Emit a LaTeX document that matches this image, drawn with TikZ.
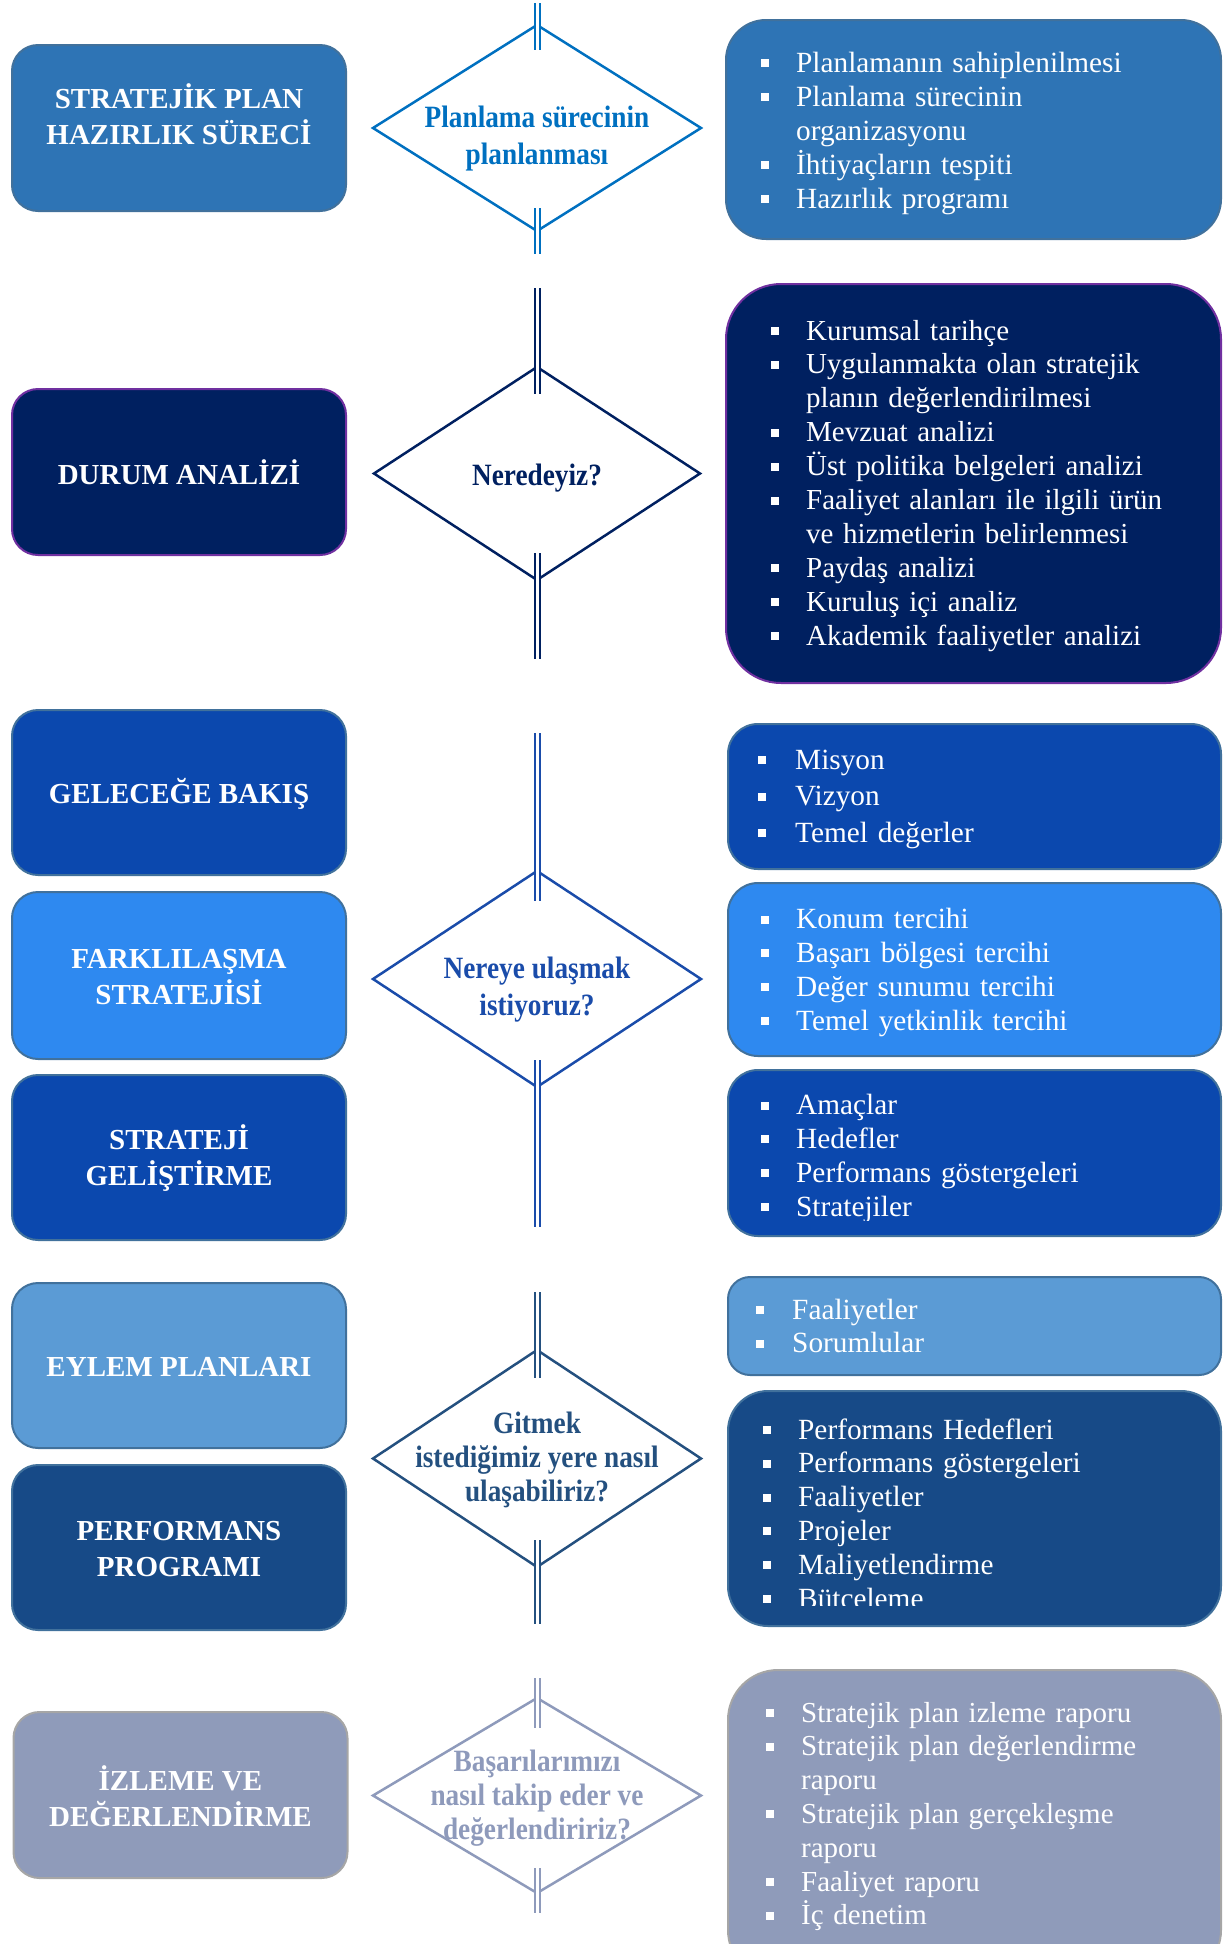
\documentclass[tikz,border=0pt]{standalone}
\usepackage{fontspec}
\setmainfont{Liberation Serif}
\newfontfamily\dfont[FakeStretch=0.88]{Liberation Serif}
\usetikzlibrary{shapes.geometric,calc}
\definecolor{cA}{HTML}{2E74B5}
\definecolor{cAb}{HTML}{41719C}
\definecolor{cB}{HTML}{002060}
\definecolor{cBb}{HTML}{7030A0}
\definecolor{cC}{HTML}{0B48AE}
\definecolor{cD}{HTML}{2E89F0}
\definecolor{cE}{HTML}{5B9BD5}
\definecolor{cF}{HTML}{174A87}
\definecolor{cG}{HTML}{8F9BBA}
\definecolor{cGb}{HTML}{A6A6A6}
\definecolor{dA}{HTML}{0070C0}
\definecolor{dB}{HTML}{002060}
\definecolor{dC}{HTML}{1A4CAA}
\definecolor{dD}{HTML}{24507F}
\definecolor{dE}{HTML}{8E9ABB}
\newlength\bw
\newcommand\bi{\makebox[\bw][l]{\rule[5pt]{8pt}{8pt}}}
\newcommand\ci{\hspace*{\bw}}
\tikzset{
  lbox/.style={fill=#1, draw=cAb, line width=2pt, rounded corners=26pt,
    minimum width=334pt, minimum height=166pt, inner sep=0pt},
  ltext/.style={text=white, align=center, inner sep=0pt,
    font=\fontsize{29}{36}\selectfont\bfseries},
  rbox/.style={fill=#1, draw=cAb, line width=2pt, minimum width=495pt, inner sep=0pt},
  rtext/.style={anchor=base west, text=white, text width=455pt, inner sep=0pt,
    align=left, execute at begin node={\setlength{\bw}{#1}}},
  dia/.style={shape=diamond, draw=#1, line width=2.5pt, inner sep=0pt, outer sep=0pt,
    aspect=1},
  dtext/.style={text=#1, align=center, inner sep=0pt},
  dl/.style={draw=#1, line width=2pt, double=white, double distance=3pt}
}
\begin{document}
\begin{tikzpicture}[x=1pt,y=-1pt]
\path[use as bounding box] (0,0) rectangle (1226,1944);
\clip (0,0) rectangle (1226,1944);

% ---------- left boxes ----------
\node[lbox=cA] (b1) at (179,128) {};
\node[ltext] (l1) at (179,114.5) {STRATEJİK PLAN\\HAZIRLIK SÜRECİ};
\node[lbox=cB, draw=cBb] (b2) at (179,472) {};
\node[ltext] (l2) at (b2) {DURUM ANALİZİ};
\node[lbox=cC, minimum height=165pt] (b3) at (179,792.5) {};
\node[ltext] (l3) at (179,794) {GELECEĞE BAKIŞ};
\node[lbox=cD, minimum height=167pt] (b4) at (179,975.5) {};
\node[ltext] (l4) at (179,977) {FARKLILAŞMA\\STRATEJİSİ};
\node[lbox=cC, minimum height=165pt] (b5) at (179,1157.5) {};
\node[ltext] (l5) at (179,1158.5) {STRATEJİ\\GELİŞTİRME};
\node[lbox=cE, minimum height=165pt] (b6) at (179,1365.5) {};
\node[ltext] (l6) at (179,1367) {EYLEM PLANLARI};
\node[lbox=cF, minimum height=165pt] (b7) at (179,1547.5) {};
\node[ltext] (l7) at (179,1549) {PERFORMANS\\PROGRAMI};
\node[lbox=cG, draw=cGb] (b8) at (180.5,1795) {};
\node[ltext] (l8) at (180.5,1796) {İZLEME VE\\DEĞERLENDİRME};

% ---------- diamonds ----------
\node[dia=dA, minimum width=328pt, minimum height=206pt] (d1) at (537,128) {};
\node[dtext=dA, font=\fontsize{31}{37}\dfont\bfseries] (t1) at (537,139) {Planlama sürecinin\\planlanması};
\draw[dl=dA] ($(d1.north)+(0,-22)$) -- ($(d1.north)+(0,25)$);
\draw[dl=dA] ($(d1.south)+(0,-23)$) -- ($(d1.south)+(0,23)$);

\node[dia=dB, minimum width=326pt, minimum height=213pt] (d2) at (537,473.5) {};
\node[dtext=dB, font=\fontsize{31}{37}\dfont\bfseries] (t2) at (537,478) {Neredeyiz?};
\draw[dl=dB] ($(d2.north)+(0,-79)$) -- ($(d2.north)+(0,27)$);
\draw[dl=dB] ($(d2.south)+(0,-27)$) -- ($(d2.south)+(0,79)$);

\node[dia=dC, minimum width=328pt, minimum height=216pt] (d3) at (537,979) {};
\node[dtext=dC, font=\fontsize{31}{37}\dfont\bfseries] (t3) at (537,990) {Nereye ulaşmak\\istiyoruz?};
\draw[dl=dC] ($(d3.north)+(0,-138)$) -- ($(d3.north)+(0,30)$);
\draw[dl=dC] ($(d3.south)+(0,-27)$) -- ($(d3.south)+(0,140)$);

\node[dia=dD, minimum width=328pt, minimum height=217pt] (d4) at (537,1458.5) {};
\node[dtext=dD, font=\fontsize{31}{34}\dfont\bfseries] (t4) at (537,1460) {Gitmek\\istediğimiz yere nasıl\\ulaşabiliriz?};
\draw[dl=dD] ($(d4.north)+(0,-58)$) -- ($(d4.north)+(0,28)$);
\draw[dl=dD] ($(d4.south)+(0,-27)$) -- ($(d4.south)+(0,57)$);

\node[dia=dE, minimum width=328pt, minimum height=195pt] (d5) at (537,1795.5) {};
\node[dtext=dE, font=\fontsize{31}{34}\dfont\bfseries] (t5) at (537,1798) {Başarılarımızı\\nasıl takip eder ve\\değerlendiririz?};
\draw[dl=dE] ($(d5.north)+(0,-20)$) -- ($(d5.north)+(0,30)$);
\draw[dl=dE] ($(d5.south)+(0,-25)$) -- ($(d5.south)+(0,20)$);

% ---------- right boxes ----------
\node[rbox=cA, rounded corners=40pt, minimum height=219pt] (r1) at (973.5,129.5) {};
\node[rtext=35pt, font=\fontsize{29.3}{34}\selectfont] (x1) at (761,72)
 {\bi Planlamanın sahiplenilmesi\\\bi Planlama sürecinin\\\ci organizasyonu\\\bi İhtiyaçların tespiti\\\bi Hazırlık programı};

\node[rbox=cB, draw=cBb, rounded corners=55pt, minimum height=399pt] (r2) at (973.5,483.5) {};
\node[rtext=35pt, font=\fontsize{29}{33.9}\selectfont] (x2) at (771,340)
 {\bi Kurumsal tarihçe\\\bi Uygulanmakta olan stratejik\\\ci planın değerlendirilmesi\\\bi Mevzuat analizi\\\bi Üst politika belgeleri analizi\\\bi Faaliyet alanları ile ilgili ürün\\\ci ve hizmetlerin belirlenmesi\\\bi Paydaş analizi\\\bi Kuruluş içi analiz\\\bi Akademik faaliyetler analizi};

\node[rbox=cC, rounded corners=30pt, minimum width=493pt, minimum height=145pt] (r3) at (974.5,796.5) {};
\node[rtext=37pt, font=\fontsize{29.3}{36.6}\selectfont] (x3) at (758,769)
 {\bi Misyon\\\bi Vizyon\\\bi Temel değerler};

\node[rbox=cD, rounded corners=30pt, minimum width=493pt, minimum height=173pt] (r4) at (974.5,969.5) {};
\node[rtext=35pt, font=\fontsize{29.3}{33.9}\selectfont] (x4) at (761,928.5)
 {\bi Konum tercihi\\\bi Başarı bölgesi tercihi\\\bi Değer sunumu tercihi\\\bi Temel yetkinlik tercihi};

\node[rbox=cC, rounded corners=30pt, minimum width=493pt, minimum height=166pt] (r5) at (974.5,1153) {};
\begin{scope}
\clip (728,1070) rectangle (1221,1220);
\node[rtext=35pt, font=\fontsize{29.3}{33.9}\selectfont] (x5) at (761,1114.5)
 {\bi Amaçlar\\\bi Hedefler\\\bi Performans göstergeleri\\\bi Stratejiler};
\end{scope}

\node[rbox=cE, rounded corners=22pt, minimum width=493pt, minimum height=98pt] (r6) at (974.5,1326) {};
\node[rtext=36pt, font=\fontsize{29.3}{33.5}\selectfont] (x6) at (756,1319)
 {\bi Faaliyetler\\\bi Sorumlular};

\node[rbox=cF, rounded corners=40pt, minimum width=493pt, minimum height=235pt] (r7) at (974.5,1508.5) {};
\begin{scope}
\clip (728,1391) rectangle (1221,1605);
\node[rtext=35pt, font=\fontsize{29.3}{33.8}\selectfont] (x7) at (763,1439)
 {\bi Performans Hedefleri\\\bi Performans göstergeleri\\\bi Faaliyetler\\\bi Projeler\\\bi Maliyetlendirme\\\bi Bütçeleme};
\end{scope}

\node[rbox=cG, draw=cGb, rounded corners=50pt, minimum width=493pt, minimum height=310pt] (r8) at (974.5,1825) {};
\node[rtext=35pt, font=\fontsize{29}{33.8}\selectfont] (x8) at (766,1722)
 {\bi Stratejik plan izleme raporu\\\bi Stratejik plan değerlendirme\\\ci raporu\\\bi Stratejik plan gerçekleşme\\\ci raporu\\\bi Faaliyet raporu\\\bi İç denetim};
\end{tikzpicture}
\end{document}
